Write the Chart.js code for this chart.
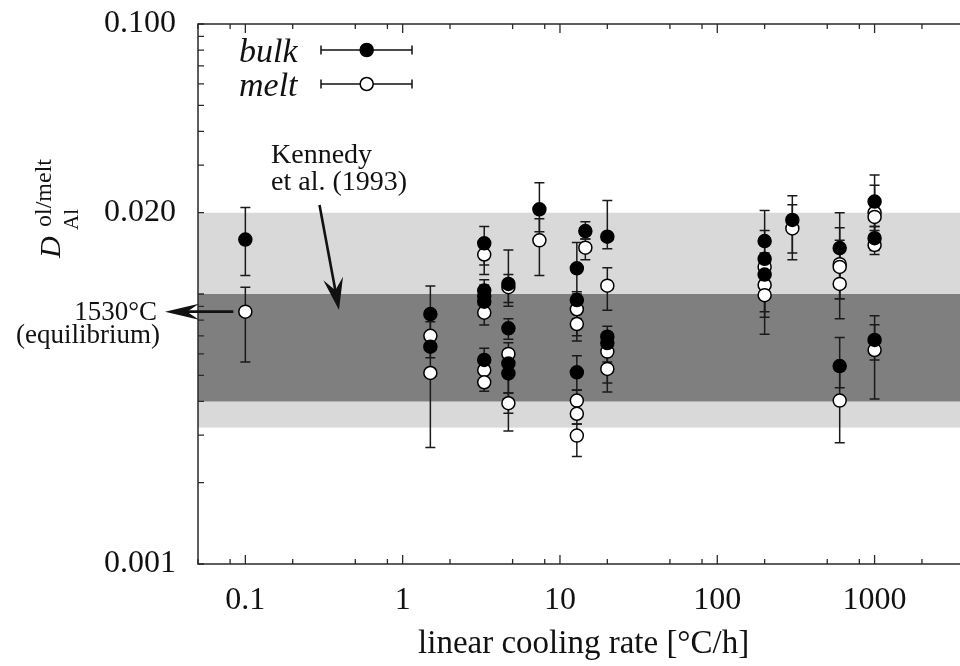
<!DOCTYPE html>
<html>
<head>
<meta charset="utf-8">
<style>
  html, body { margin: 0; padding: 0; background: #fff; overflow: hidden; }
  #wrap { position: absolute; left: 0; top: 0; width: 980px; height: 666px; }
</style>
<script src="https://cdn.jsdelivr.net/npm/chart.js@4/dist/chart.umd.min.js"></script>
</head>
<body>
<div id="wrap"><canvas id="c" width="980" height="666"></canvas></div>
<script>
// Linear cooling rate [°C/h] and D(Al) olivine/melt for bulk and melt analyses
const bulkRate = [0.1, 1.5, 1.5, 3.3, 3.3, 3.3, 3.3, 3.3, 4.7, 4.7, 4.7, 4.7, 7.4,
  12.8, 12.8, 12.8, 14.5, 20, 20, 20, 200, 200, 200, 300, 600, 600, 1000, 1000, 1000];
const bulkD = [0.0159, 0.00843, 0.00638, 0.0154, 0.0103, 0.00983, 0.00937, 0.0057,
  0.0109, 0.00746, 0.00553, 0.00508, 0.0206, 0.01245, 0.0095, 0.00513, 0.0171,
  0.0163, 0.00695, 0.00658, 0.0157, 0.0135, 0.0118, 0.0188, 0.0148, 0.00541,
  0.0220, 0.0161, 0.00676];
const bulkLo = [0.0117, 0.0070, 0.0058, 0.0128, 0.0093, 0.0090, 0.0086, 0.0052,
  0.0090, 0.0068, 0.00362, 0.0043, 0.0170, 0.0100, 0.0067, 0.00441, 0.0160,
  0.0147, 0.0064, 0.00434, 0.0128, 0.0118, 0.0082, 0.0142, 0.0096, 0.0045,
  0.0178, 0.0145, 0.0057];
const bulkHi = [0.0209, 0.0107, 0.0070, 0.0178, 0.0113, 0.0108, 0.0102, 0.0063,
  0.0118, 0.0081, 0.0060, 0.0056, 0.0258, 0.0155, 0.0102, 0.0059, 0.0185,
  0.0222, 0.0076, 0.0072, 0.0204, 0.0172, 0.0130, 0.0231, 0.0200, 0.0069,
  0.0276, 0.0178, 0.0083];

const meltRate = [0.1, 1.5, 1.5, 3.3, 3.3, 3.3, 3.3, 4.7, 4.7, 4.7, 7.4,
  12.8, 12.8, 12.8, 12.8, 12.8, 14.5, 20, 20, 20, 200, 200, 200, 300,
  600, 600, 600, 600, 1000, 1000, 1000, 1000];
const meltD = [0.0086, 0.0070, 0.0051, 0.0140, 0.00853, 0.00522, 0.00471, 0.0106,
  0.0060, 0.00394, 0.0158, 0.00878, 0.00774, 0.00403, 0.0036, 0.00299, 0.01485,
  0.01074, 0.00612, 0.00528, 0.0126, 0.0108, 0.0099, 0.0175, 0.0129, 0.0126,
  0.0109, 0.00403, 0.0200, 0.0193, 0.0152, 0.0062];
const meltLo = [0.0056, 0.0062, 0.0027, 0.0118, 0.00768, 0.0048, 0.00436, 0.0093,
  0.0055, 0.00311, 0.0117, 0.0081, 0.0070, 0.0037, 0.0033, 0.0025, 0.0134,
  0.0087, 0.0056, 0.00468, 0.0108, 0.0086, 0.0071, 0.0134, 0.0096, 0.0110,
  0.0081, 0.00281, 0.0165, 0.0172, 0.0140, 0.00408];
const meltHi = [0.0106, 0.0079, 0.0072, 0.0160, 0.0094, 0.0057, 0.0051, 0.01455,
  0.0066, 0.0043, 0.0190, 0.0095, 0.0085, 0.0044, 0.0039, 0.0033, 0.0160,
  0.0125, 0.0066, 0.0060, 0.0142, 0.0125, 0.0118, 0.0214, 0.0176, 0.0145,
  0.0158, 0.0052, 0.0253, 0.0215, 0.0165, 0.0077];

// Kennedy et al. (1993) ranges
const kennedyOuter = [0.0032, 0.020];
const kennedyInner = [0.004, 0.010];

// axis ticks
const xTickValues = [0.1, 1, 10, 100, 1000];
const xTickLabels = ['0.1', '1', '10', '100', '1000'];
const yTickValues = [0.001, 0.02, 0.1];
const yTickLabels = ['0.001', '0.020', '0.100'];

const SERIF = "'Liberation Serif', 'Times New Roman', Times, serif";
const INK = '#111';

function toPoints(xs, ys) { return xs.map((x, i) => ({ x: x, y: ys[i] })); }

// keep the plot frame where the layout padding puts it
function noEdgePadding(s) {
  s.paddingTop = 0; s.paddingBottom = 0; s.paddingLeft = 0; s.paddingRight = 0;
}

const bandsPlugin = {
  id: 'bands',
  beforeDraw(chart) {
    const { ctx, chartArea: a, scales: { y } } = chart;
    ctx.save();
    ctx.beginPath();
    ctx.rect(a.left, a.top, a.right - a.left, a.bottom - a.top);
    ctx.clip();
    const band = (r, col) => {
      const y1 = y.getPixelForValue(r[1]), y0 = y.getPixelForValue(r[0]);
      ctx.fillStyle = col;
      ctx.fillRect(a.left, y1, a.right - a.left, y0 - y1);
    };
    band(kennedyOuter, '#d9d9d9');
    band(kennedyInner, '#7f7f7f');
    ctx.restore();
  }
};

const frameAndErrorPlugin = {
  id: 'frameErr',
  beforeDatasetsDraw(chart) {
    const { ctx, chartArea: a, scales: { x, y } } = chart;
    ctx.save();
    ctx.strokeStyle = '#2a2a2a';
    ctx.lineWidth = 1.5;
    ctx.strokeRect(a.left, a.top, a.right - a.left, a.bottom - a.top);
    // x ticks (major at each decade, minor at 2, 5, 8), top and bottom, inward
    ctx.lineWidth = 1.3;
    for (let d = -2; d <= 3; d++) {
      for (const m of [1, 2, 5, 8]) {
        const v = m * Math.pow(10, d);
        if (v < x.min || v > x.max) continue;
        const px = x.getPixelForValue(v);
        const len = m === 1 ? 9 : 5;
        ctx.beginPath();
        ctx.moveTo(px, a.bottom); ctx.lineTo(px, a.bottom - len);
        ctx.moveTo(px, a.top); ctx.lineTo(px, a.top + len);
        ctx.stroke();
      }
    }
    // y ticks at every integer multiple, left and right, inward
    for (let d = -3; d <= -1; d++) {
      for (let m = 1; m <= 9; m++) {
        const v = m * Math.pow(10, d);
        if (v < y.min * 0.999 || v > y.max * 1.001) continue;
        const py = y.getPixelForValue(v);
        ctx.beginPath();
        ctx.moveTo(a.left, py); ctx.lineTo(a.left + 6, py);
        ctx.moveTo(a.right, py); ctx.lineTo(a.right - 9, py);
        ctx.stroke();
      }
    }
    // error bars
    ctx.strokeStyle = '#1a1a1a';
    ctx.lineWidth = 1.5;
    const bars = (xs, lo, hi) => {
      xs.forEach((xv, i) => {
        const px = x.getPixelForValue(xv);
        const p0 = y.getPixelForValue(lo[i]);
        const p1 = y.getPixelForValue(hi[i]);
        ctx.beginPath();
        ctx.moveTo(px, p0); ctx.lineTo(px, p1);
        ctx.moveTo(px - 5, p0); ctx.lineTo(px + 5, p0);
        ctx.moveTo(px - 5, p1); ctx.lineTo(px + 5, p1);
        ctx.stroke();
      });
    };
    bars(bulkRate, bulkLo, bulkHi);
    bars(meltRate, meltLo, meltHi);
    ctx.restore();
  }
};

function arrowHead(ctx, tx, ty, ang, len, half, notch) {
  // filled barbed arrow head pointing along angle ang, tip at (tx, ty)
  const c = Math.cos(ang), s = Math.sin(ang);
  const bx = tx - c * len, by = ty - s * len;
  ctx.beginPath();
  ctx.moveTo(tx, ty);
  ctx.lineTo(bx - s * half, by + c * half);
  ctx.lineTo(tx - c * (len - notch), ty - s * (len - notch));
  ctx.lineTo(bx + s * half, by - c * half);
  ctx.closePath();
  ctx.fill();
}

const overlayPlugin = {
  id: 'overlay',
  afterDraw(chart) {
    const { ctx, scales: { x, y } } = chart;
    ctx.save();
    ctx.fillStyle = INK;
    ctx.strokeStyle = INK;

    // legend
    const legend = [
      { label: 'bulk', fill: '#000', yy: 50 },
      { label: 'melt', fill: '#fff', yy: 84 }
    ];
    legend.forEach(e => {
      ctx.font = 'italic 34px ' + SERIF;
      ctx.textAlign = 'left';
      ctx.textBaseline = 'alphabetic';
      ctx.fillStyle = INK;
      ctx.fillText(e.label, 239, e.yy + 11.5);
      ctx.lineWidth = 1.5;
      ctx.beginPath();
      ctx.moveTo(321, e.yy); ctx.lineTo(412, e.yy);
      ctx.moveTo(321, e.yy - 4.5); ctx.lineTo(321, e.yy + 4.5);
      ctx.moveTo(412, e.yy - 4.5); ctx.lineTo(412, e.yy + 4.5);
      ctx.stroke();
      ctx.beginPath();
      ctx.arc(366.7, e.yy, 6.5, 0, Math.PI * 2);
      ctx.fillStyle = e.fill;
      ctx.fill();
      ctx.strokeStyle = '#000';
      ctx.stroke();
      ctx.strokeStyle = INK;
    });

    // Kennedy et al. annotation with arrow into the inner band
    ctx.fillStyle = INK;
    ctx.font = '28px ' + SERIF;
    ctx.textAlign = 'left';
    ctx.fillText('Kennedy', 271, 163);
    ctx.fillText('et al. (1993)', 271, 190);
    const ax0 = 319.5, ay0 = 205, ax1 = 339, ay1 = 310;
    const ang = Math.atan2(ay1 - ay0, ax1 - ax0);
    ctx.lineWidth = 2.6;
    ctx.beginPath();
    ctx.moveTo(ax0, ay0);
    ctx.lineTo(ax1 - Math.cos(ang) * 18, ay1 - Math.sin(ang) * 18);
    ctx.stroke();
    arrowHead(ctx, ax1, ay1, ang, 32, 10, 12);

    // equilibrium run at 0.1 °C/h
    const ey = y.getPixelForValue(meltD[0]);
    const ex = x.getPixelForValue(meltRate[0]) - 12;
    ctx.font = '27px ' + SERIF;
    ctx.textAlign = 'right';
    ctx.fillText('1530\u00B0C', 157, ey + 8.5);
    ctx.fillText('(equilibrium)', 160, ey + 31);
    ctx.lineWidth = 2.8;
    ctx.beginPath();
    ctx.moveTo(ex, ey); ctx.lineTo(185, ey);
    ctx.stroke();
    arrowHead(ctx, 165, ey, Math.PI, 34, 8, 12);

    // y-axis title: D_Al^{ol/melt}
    ctx.save();
    ctx.translate(60, 258);
    ctx.rotate(-Math.PI / 2);
    ctx.textAlign = 'left';
    ctx.textBaseline = 'alphabetic';
    ctx.fillStyle = INK;
    ctx.font = 'italic 30px ' + SERIF;
    ctx.fillText('D', 0, 0);
    ctx.font = '21px ' + SERIF;
    ctx.fillText('Al', 28, 18);
    ctx.font = '24px ' + SERIF;
    ctx.fillText('ol/melt', 31, -9.5);
    ctx.restore();

    ctx.restore();
  }
};

new Chart(document.getElementById('c'), {
  type: 'scatter',
  data: {
    datasets: [
      {
        label: 'bulk',
        data: toPoints(bulkRate, bulkD),
        pointStyle: 'circle',
        pointRadius: 6.5,
        pointBackgroundColor: '#000',
        pointBorderColor: '#000',
        pointBorderWidth: 1.5
      },
      {
        label: 'melt',
        data: toPoints(meltRate, meltD),
        pointStyle: 'circle',
        pointRadius: 6.5,
        pointBackgroundColor: '#fff',
        pointBorderColor: '#000',
        pointBorderWidth: 1.5
      }
    ]
  },
  options: {
    responsive: false,
    animation: false,
    events: [],
    devicePixelRatio: 1,
    layout: { padding: { top: 24, right: 10.7, left: 0, bottom: 0 } },
    plugins: { legend: { display: false }, tooltip: { enabled: false } },
    scales: {
      x: {
        type: 'logarithmic',
        min: 0.05,
        max: 4000,
        grid: { display: false, drawTicks: false },
        border: { display: false },
        afterBuildTicks: s => { s.ticks = xTickValues.map(v => ({ value: v })); },
        afterFit: s => { s.height = 102; noEdgePadding(s); },
        ticks: {
          autoSkip: false,
          maxRotation: 0,
          padding: 17,
          color: INK,
          font: { family: SERIF, size: 32 },
          callback: (v, i) => xTickLabels[i]
        },
        title: {
          display: true,
          text: 'linear cooling rate [\u00B0C/h]',
          color: INK,
          font: { family: SERIF, size: 33 },
          padding: { top: 0, bottom: 2 }
        }
      },
      y: {
        type: 'logarithmic',
        min: 0.001,
        max: 0.1,
        grid: { display: false, drawTicks: false },
        border: { display: false },
        afterBuildTicks: s => { s.ticks = yTickValues.map(v => ({ value: v })); },
        afterFit: s => { s.width = 198; noEdgePadding(s); },
        ticks: {
          autoSkip: false,
          padding: 22,
          color: INK,
          font: { family: SERIF, size: 32 },
          callback: (v, i) => yTickLabels[i]
        }
      }
    }
  },
  plugins: [bandsPlugin, frameAndErrorPlugin, overlayPlugin]
});
</script>
</body>
</html>
